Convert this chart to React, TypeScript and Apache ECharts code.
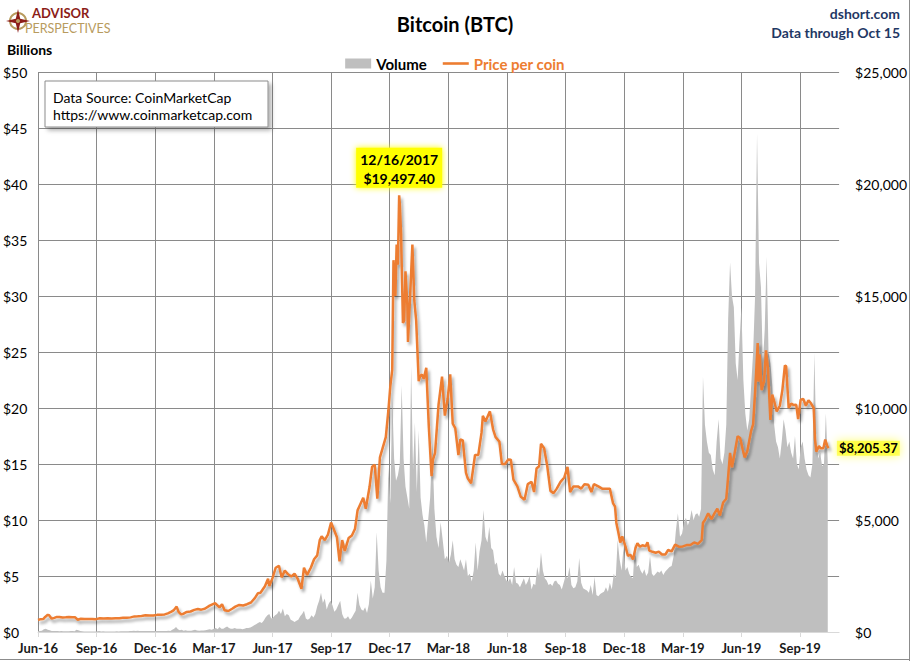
import React, { useEffect, useRef } from "react";
import * as echarts from "echarts";

// ---------- DATA ----------
const tickLabels = ["Jun-16","Sep-16","Dec-16","Mar-17","Jun-17","Sep-17","Dec-17","Mar-18","Jun-18","Sep-18","Dec-18","Mar-19","Jun-19","Sep-19"];

const priceDates = [
"2016-06-01","2016-06-05","2016-06-09","2016-06-12","2016-06-16","2016-06-18","2016-06-22","2016-06-26","2016-06-30",
"2016-07-04","2016-07-09","2016-07-14","2016-07-19","2016-07-24","2016-07-29","2016-08-02","2016-08-07","2016-08-13",
"2016-08-19","2016-08-25","2016-08-31","2016-09-06","2016-09-12","2016-09-18","2016-09-24","2016-09-30","2016-10-06",
"2016-10-12","2016-10-18","2016-10-24","2016-10-30","2016-11-04","2016-11-10","2016-11-16","2016-11-22","2016-11-28",
"2016-12-04","2016-12-10","2016-12-16","2016-12-21","2016-12-26","2016-12-30",
"2017-01-04","2017-01-07","2017-01-11","2017-01-15","2017-01-20","2017-01-26","2017-02-01","2017-02-06","2017-02-11",
"2017-02-16","2017-02-23","2017-03-03","2017-03-10","2017-03-14","2017-03-18","2017-03-24","2017-03-30","2017-04-04",
"2017-04-10","2017-04-16","2017-04-22","2017-04-28","2017-05-04","2017-05-09","2017-05-13","2017-05-20","2017-05-25",
"2017-05-27","2017-06-01","2017-06-06","2017-06-11","2017-06-15","2017-06-20","2017-06-25","2017-06-30","2017-07-05",
"2017-07-10","2017-07-16","2017-07-20","2017-07-25","2017-07-31","2017-08-05","2017-08-10","2017-08-14","2017-08-17",
"2017-08-22","2017-08-27","2017-09-01","2017-09-05","2017-09-10","2017-09-14","2017-09-18","2017-09-22","2017-09-28",
"2017-10-03","2017-10-08","2017-10-12","2017-10-16","2017-10-21","2017-10-25","2017-10-31","2017-11-04","2017-11-08",
"2017-11-12","2017-11-16","2017-11-20","2017-11-25","2017-11-29","2017-12-02","2017-12-05","2017-12-07","2017-12-10",
"2017-12-12","2017-12-14","2017-12-16","2017-12-17","2017-12-19","2017-12-22","2017-12-24","2017-12-26","2017-12-29",
"2017-12-30","2018-01-02","2018-01-06","2018-01-09","2018-01-12","2018-01-16","2018-01-18","2018-01-21","2018-01-24",
"2018-01-28","2018-02-01","2018-02-05","2018-02-07","2018-02-10","2018-02-15","2018-02-20","2018-02-24","2018-02-28",
"2018-03-04","2018-03-08","2018-03-12","2018-03-17","2018-03-20","2018-03-24","2018-03-29","2018-04-01","2018-04-06",
"2018-04-12","2018-04-17","2018-04-22","2018-04-24","2018-04-28","2018-05-05","2018-05-10","2018-05-14","2018-05-20",
"2018-05-24","2018-05-29","2018-06-03","2018-06-07","2018-06-11","2018-06-17","2018-06-22","2018-06-28","2018-07-03",
"2018-07-09","2018-07-13","2018-07-17","2018-07-21","2018-07-24","2018-07-29","2018-08-03","2018-08-08","2018-08-13",
"2018-08-18","2018-08-24","2018-08-30","2018-09-04","2018-09-08","2018-09-13","2018-09-20","2018-09-25","2018-09-30",
"2018-10-06","2018-10-11","2018-10-15","2018-10-22","2018-10-28","2018-11-03","2018-11-09","2018-11-14","2018-11-17",
"2018-11-19","2018-11-22","2018-11-25","2018-11-28","2018-12-03","2018-12-07","2018-12-11","2018-12-15","2018-12-19",
"2018-12-22","2018-12-26","2018-12-30","2019-01-04","2019-01-07","2019-01-10","2019-01-15","2019-01-20","2019-01-25",
"2019-01-30","2019-02-04","2019-02-08","2019-02-13","2019-02-18","2019-02-24","2019-03-01","2019-03-07","2019-03-13",
"2019-03-19","2019-03-25","2019-03-31","2019-04-02","2019-04-05","2019-04-10","2019-04-15","2019-04-20","2019-04-24",
"2019-04-28","2019-05-03","2019-05-08","2019-05-11","2019-05-14","2019-05-17","2019-05-21","2019-05-26","2019-05-30",
"2019-06-03","2019-06-06","2019-06-10","2019-06-16","2019-06-19","2019-06-22","2019-06-26","2019-06-27","2019-06-29",
"2019-07-02","2019-07-06","2019-07-09","2019-07-12","2019-07-16","2019-07-19","2019-07-22","2019-07-26","2019-07-31",
"2019-08-04","2019-08-08","2019-08-10","2019-08-14","2019-08-18","2019-08-22","2019-08-26","2019-08-29","2019-09-02",
"2019-09-06","2019-09-10","2019-09-14","2019-09-18","2019-09-22","2019-09-24","2019-09-26","2019-09-30","2019-10-03",
"2019-10-07","2019-10-10","2019-10-13","2019-10-15"
];

const priceValues = [
537,574,575,672,766,749,596,629,674,
672,650,659,672,661,655,547,590,585,
575,578,574,611,607,611,603,609,612,
636,637,653,697,704,715,745,738,734,
765,775,785,833,897,963,
1135,895,785,818,896,915,989,1025,998,
1040,1178,1285,1100,1240,970,937,1040,1133,
1208,1185,1240,1317,1510,1735,1750,2040,2375,
2050,2405,2870,2960,2440,2740,2575,2480,2600,
2380,1930,2870,2550,2880,3250,3420,4100,4270,
4100,4350,4890,4600,4230,3150,4100,3620,4200,
4310,4610,5430,5680,5990,5500,6470,7380,7460,
5950,7800,8200,8700,9900,10980,11700,16600,15000,
17300,16400,19497.4,19140,17800,13800,13900,16100,14600,
12950,14750,17300,14800,13900,11200,11400,11500,11300,
11800,9200,6960,7700,8000,10150,11400,9660,10400,
11500,9300,9100,7900,8600,8550,7100,6850,6640,
7900,7900,8900,9650,9400,9850,9050,8700,8500,
7500,7500,7700,7690,6800,6500,6050,5900,6600,
6700,6250,7300,7400,8400,8200,7400,6300,6200,
6400,6700,6900,7370,6250,6500,6500,6400,6600,
6570,6250,6600,6500,6400,6400,6400,5740,5600,
4870,4450,3990,4270,3820,3400,3450,3240,3750,
3960,3810,3870,3830,4000,3630,3580,3540,3590,
3460,3460,3660,3600,3900,3800,3820,3880,3880,
4000,3930,4100,4880,5000,5300,5040,5320,5500,
5200,5780,5950,6950,8000,7350,7950,8740,8660,
8150,7790,8070,8990,9270,10700,12900,11180,12400,
10800,11200,12570,11800,9470,10600,10300,9850,10100,
10800,11900,11860,10000,10200,10130,10140,9500,10370,
10400,10100,10350,10200,10000,8600,8050,8300,8200,
8200,8590,8330,8205.37
];

// Daily volume sampled every 3 days starting 2016-06-01 (billions of USD)
const volumeStart = "2016-06-01";
const volumeStepDays = 3;
const volumeValues = [
0.08,0.1,0.12,0.25,0.3,0.2,0.15,0.1,0.1,0.09,
0.08,0.07,0.09,0.07,0.06,0.07,0.06,0.1,0.08,0.06,
0.2,0.15,0.08,0.06,0.05,0.05,0.04,0.05,0.04,0.04,
0.05,0.06,0.08,0.05,0.06,0.05,0.05,0.04,0.05,0.05,
0.05,0.06,0.05,0.06,0.06,0.07,0.06,0.07,0.08,0.08,
0.12,0.1,0.11,0.08,0.09,0.1,0.08,0.09,0.08,0.09,
0.08,0.1,0.08,0.09,0.1,0.09,0.1,0.1,0.12,0.1,
0.2,0.3,0.45,0.25,0.15,0.2,0.12,0.15,0.12,0.11,
0.12,0.15,0.2,0.14,0.12,0.14,0.13,0.15,0.2,0.25,
0.2,0.3,0.35,0.25,0.45,0.3,0.3,0.4,0.5,0.35,
0.3,0.3,0.35,0.3,0.3,0.28,0.25,0.3,0.35,0.35,
0.4,0.5,0.6,0.7,0.8,0.9,0.8,1.0,1.3,1.5,
1.6,1.2,1.3,1.5,1.6,1.9,1.6,2.1,1.4,1.6,
1.5,1.1,1.0,0.9,1.0,1.1,1.4,1.6,1.9,1.2,
1.1,1.2,1.5,1.3,1.6,2.3,2.8,3.5,2.6,3.0,
2.0,2.5,2.8,2.4,1.8,2.0,2.4,2.8,1.6,1.2,
1.2,1.4,1.1,1.3,1.6,1.9,3.5,2.4,2.0,1.9,
2.2,1.7,2.5,4.6,3.0,4.0,8.9,5.5,4.0,3.5,
3.5,6.4,14.7,11.5,21.0,15.5,13.5,14.0,15.0,22.0,
15.5,13.0,12.0,11.0,23.7,14.5,18.7,12.5,18.0,12.0,
10.5,9.5,8.0,10.0,12.0,16.9,11.0,8.5,7.5,9.8,
8.2,6.5,6.8,6.2,6.9,8.2,6.5,6.0,5.8,6.5,
6.0,5.5,6.5,5.0,5.2,4.5,5.5,8.0,5.5,7.2,
8.2,10.9,8.5,8.0,9.4,7.5,7.3,6.0,6.2,5.2,
5.0,5.5,5.0,4.6,4.5,4.8,4.2,5.8,4.4,4.3,
4.0,4.4,4.8,4.2,4.5,5.0,3.8,4.3,4.2,5.8,
5.0,7.1,5.5,4.8,4.6,4.2,4.3,4.1,4.5,4.6,
4.3,4.2,3.8,4.4,5.0,4.8,5.8,4.2,3.9,4.0,
4.5,6.6,4.4,3.9,3.8,3.7,3.5,4.2,3.3,4.9,
3.3,3.2,3.4,3.5,3.6,4.0,3.6,4.4,3.8,5.2,
4.8,8.2,6.5,5.5,7.6,5.5,5.8,5.2,4.9,4.8,
8.0,5.8,6.0,5.5,5.2,5.6,5.0,5.3,6.8,5.2,
5.0,5.2,5.4,5.3,5.5,5.1,5.4,5.6,5.8,5.9,
6.8,9.0,10.6,8.5,8.8,9.8,10.2,9.5,10.0,10.9,
10.0,10.5,10.6,10.3,11.0,22.8,18.5,17.0,16.0,15.8,
14.5,14.0,17.0,19.0,15.5,15.0,16.0,18.5,28.0,33.0,
30.0,29.0,24.0,22.5,26.0,29.0,22.5,19.5,18.0,19.0,
22.0,25.0,30.0,44.5,33.0,30.8,24.0,27.0,33.5,25.0,
24.0,22.0,18.5,17.0,16.5,15.5,17.0,19.0,18.0,16.5,
17.0,16.0,15.5,17.5,15.0,14.5,16.5,17.0,15.5,14.5,
14.0,13.8,15.0,24.9,17.0,15.5,16.0,14.8,15.0,19.5,
15.2
];

const peakDate = "2017-12-16";
const axisMonths = 41; // Jun-16 .. Nov-19 in months

// ---------- HELPERS ----------
function monthIndexFromYMD(y: number, m: number, d: number): number {
  const dim = new Date(Date.UTC(y, m, 0)).getUTCDate();
  return (y - 2016) * 12 + (m - 6) + (d - 1) / dim;
}
function monthIndex(s: string): number {
  const [y, m, d] = s.split("-").map(Number);
  return monthIndexFromYMD(y, m, d);
}

const FONT = "Lato, 'Open Sans', sans-serif";

export default function App() {
  const ref = useRef<HTMLDivElement>(null);

  useEffect(() => {
    if (!ref.current) return;
    const chart = echarts.init(ref.current, null, { renderer: "svg" });

    const priceData = priceDates.map((d, i) => [monthIndex(d), priceValues[i]]);
    const [sy, sm, sd] = volumeStart.split("-").map(Number);
    const startMs = Date.UTC(sy, sm - 1, sd);
    const volumeData = volumeValues.map((v, i) => {
      const dt = new Date(startMs + i * volumeStepDays * 86400000);
      return [monthIndexFromYMD(dt.getUTCFullYear(), dt.getUTCMonth() + 1, dt.getUTCDate()), v];
    });

    const pi = priceDates.indexOf(peakDate);
    const [py, pm, pd] = peakDate.split("-").map(Number);
    const peakLabel = `${pm}/${pd}/${py}\n$${priceValues[pi].toLocaleString("en-US", { minimumFractionDigits: 2, maximumFractionDigits: 2 })}`;
    const li = priceValues.length - 1;
    const lastLabel = `$${priceValues[li].toLocaleString("en-US", { minimumFractionDigits: 2, maximumFractionDigits: 2 })}`;

    const gridColor = "#8a8a8a";

    chart.setOption({
      animation: false,
      backgroundColor: "#ffffff",
      textStyle: { fontFamily: FONT },
      title: {
        text: "Bitcoin (BTC)",
        left: "center",
        top: 9,
        textStyle: { fontFamily: FONT, fontSize: 20, fontWeight: "bold", color: "#000" },
      },
      legend: {
        top: 51,
        left: "center",
        itemGap: 16,
        itemWidth: 26,
        itemHeight: 10,
        textStyle: { fontFamily: FONT, fontSize: 15, fontWeight: "bold" },
        data: [
          { name: "Volume", icon: "rect", textStyle: { color: "#000" } },
          { name: "Price per coin", icon: "path://M0 0 L26 0 L26 2.6 L0 2.6 Z", textStyle: { color: "#ED7D31" } },
        ],
      },
      grid: { left: 37, right: 70, top: 72, bottom: 29, containLabel: false },
      xAxis: {
        type: "value",
        min: 0,
        max: axisMonths,
        interval: 3,
        axisLine: { show: true, lineStyle: { color: "#d9d9d9", width: 1 } },
        axisTick: { show: true, length: 5, lineStyle: { color: "#d9d9d9" } },
        splitLine: { show: true, showMaxLine: false, lineStyle: { color: gridColor, width: 1 } },
        axisLabel: {
          margin: 9,
          fontFamily: FONT,
          fontSize: 13,
          fontWeight: "bold",
          color: "#1a1a1a",
          showMaxLabel: false,
          formatter: (v: number) => (v % 3 === 0 && tickLabels[v / 3] ? tickLabels[v / 3] : ""),
        },
      },
      yAxis: [
        {
          type: "value",
          min: 0,
          max: 50,
          interval: 5,
          position: "left",
          axisLine: { show: false },
          axisTick: { show: false },
          splitLine: { show: true, showMinLine: false, lineStyle: { color: gridColor, width: 1 } },
          axisLabel: {
            align: "left",
            margin: 35,
            fontFamily: FONT,
            fontSize: 14,
            color: "#000",
            formatter: (v: number) => "$" + v,
          },
        },
        {
          type: "value",
          min: 0,
          max: 25000,
          interval: 5000,
          position: "right",
          axisLine: { show: false },
          axisTick: { show: false },
          splitLine: { show: false },
          axisLabel: {
            margin: 16,
            fontFamily: FONT,
            fontSize: 14,
            color: "#000",
            formatter: (v: number) => "$" + v.toLocaleString("en-US"),
          },
        },
      ],
      series: [
        {
          name: "Volume",
          type: "line",
          yAxisIndex: 0,
          data: volumeData,
          symbol: "none",
          color: "#BFBFBF",
          lineStyle: { width: 0, color: "#BFBFBF" },
          areaStyle: { color: "#BFBFBF", opacity: 1 },
          z: 2,
          silent: true,
        },
        {
          name: "Price per coin",
          type: "line",
          yAxisIndex: 1,
          data: priceData,
          symbol: "none",
          color: "#ED7D31",
          lineStyle: {
            width: 2.5,
            color: "#ED7D31",
            shadowColor: "rgba(0,0,0,0.35)",
            shadowBlur: 3,
            shadowOffsetX: 2,
            shadowOffsetY: 3,
          },
          z: 3,
          silent: true,
          markPoint: {
            symbol: "circle",
            symbolSize: 1,
            silent: true,
            itemStyle: { color: "rgba(0,0,0,0)" },
            data: [
              {
                coord: priceData[pi],
                label: {
                  show: true,
                  position: "top",
                  distance: 7,
                  formatter: peakLabel,
                  fontFamily: FONT,
                  fontSize: 14,
                  fontWeight: "bold",
                  color: "#000",
                  lineHeight: 19,
                  backgroundColor: "#FFFF00",
                  padding: [2, 4, 0, 4],
                  shadowColor: "#FFFF00",
                  shadowBlur: 6,
                },
              },
              {
                coord: priceData[li],
                label: {
                  show: true,
                  position: "right",
                  distance: 8,
                  formatter: lastLabel,
                  fontFamily: FONT,
                  fontSize: 13,
                  fontWeight: "bold",
                  color: "#000",
                  backgroundColor: "rgba(255,255,0,0.55)",
                  padding: [1, 2, 1, 2],
                  shadowColor: "#FFFF00",
                  shadowBlur: 10,
                },
              },
            ],
          },
        },
      ],
      graphic: [
        // frame
        { type: "line", shape: { x1: 909.5, y1: 0, x2: 909.5, y2: 661 }, style: { stroke: "#8c8c8c", lineWidth: 1 }, z: 100 },
        { type: "line", shape: { x1: 0, y1: 659.5, x2: 910, y2: 659.5 }, style: { stroke: "#8c8c8c", lineWidth: 1 }, z: 100 },
        // logo
        {
          type: "group",
          z: 100,
          children: [
            { type: "circle", shape: { cx: 18, cy: 21, r: 8 }, style: { fill: "none", stroke: "#B89B5E", lineWidth: 2 } },
            {
              type: "polygon",
              shape: { points: [[18, 9], [20.2, 18.8], [30, 21], [20.2, 23.2], [18, 33], [15.8, 23.2], [6, 21], [15.8, 18.8]] },
              style: { fill: "#8C1D18" },
            },
            { type: "circle", shape: { cx: 18, cy: 21, r: 2 }, style: { fill: "#B89B5E" } },
            { type: "text", x: 32, y: 12.5, style: { text: "ADVISOR", fill: "#8C1D18", font: `bold 13px ${FONT}`, textVerticalAlign: "middle" } },
            { type: "text", x: 25, y: 28.5, style: { text: "PERSPECTIVES", fill: "#B89B5E", font: `12.5px ${FONT}`, textVerticalAlign: "middle" } },
          ],
        },
        // top right
        { type: "text", right: 10, top: 6, z: 100, style: { text: "dshort.com", fill: "#1F3864", font: `bold 14px ${FONT}` } },
        { type: "text", right: 10, top: 25, z: 100, style: { text: "Data through Oct 15", fill: "#1F3864", font: `bold 14px ${FONT}` } },
        // Billions
        { type: "text", left: 7, top: 42, z: 100, style: { text: "Billions", fill: "#000", font: `bold 14px ${FONT}` } },
        // data source box
        {
          type: "rect",
          shape: { x: 45, y: 81, width: 223, height: 46 },
          style: { fill: "#fff", stroke: "#8c8c8c", lineWidth: 1, shadowBlur: 4, shadowOffsetX: 3, shadowOffsetY: 3, shadowColor: "rgba(0,0,0,0.3)" },
          z: 100,
        },
        { type: "text", x: 53, y: 97, z: 101, style: { text: "Data Source: CoinMarketCap", fill: "#000", font: `14px ${FONT}`, textVerticalAlign: "middle" } },
        { type: "text", x: 53, y: 114, z: 101, style: { text: "https://www.coinmarketcap.com", fill: "#000", font: `14px ${FONT}`, textVerticalAlign: "middle" } },
      ],
    });

    return () => chart.dispose();
  }, []);

  return <div ref={ref} style={{ position: "fixed", left: 0, top: 0, width: 910, height: 661, background: "#fff" }} />;
}
